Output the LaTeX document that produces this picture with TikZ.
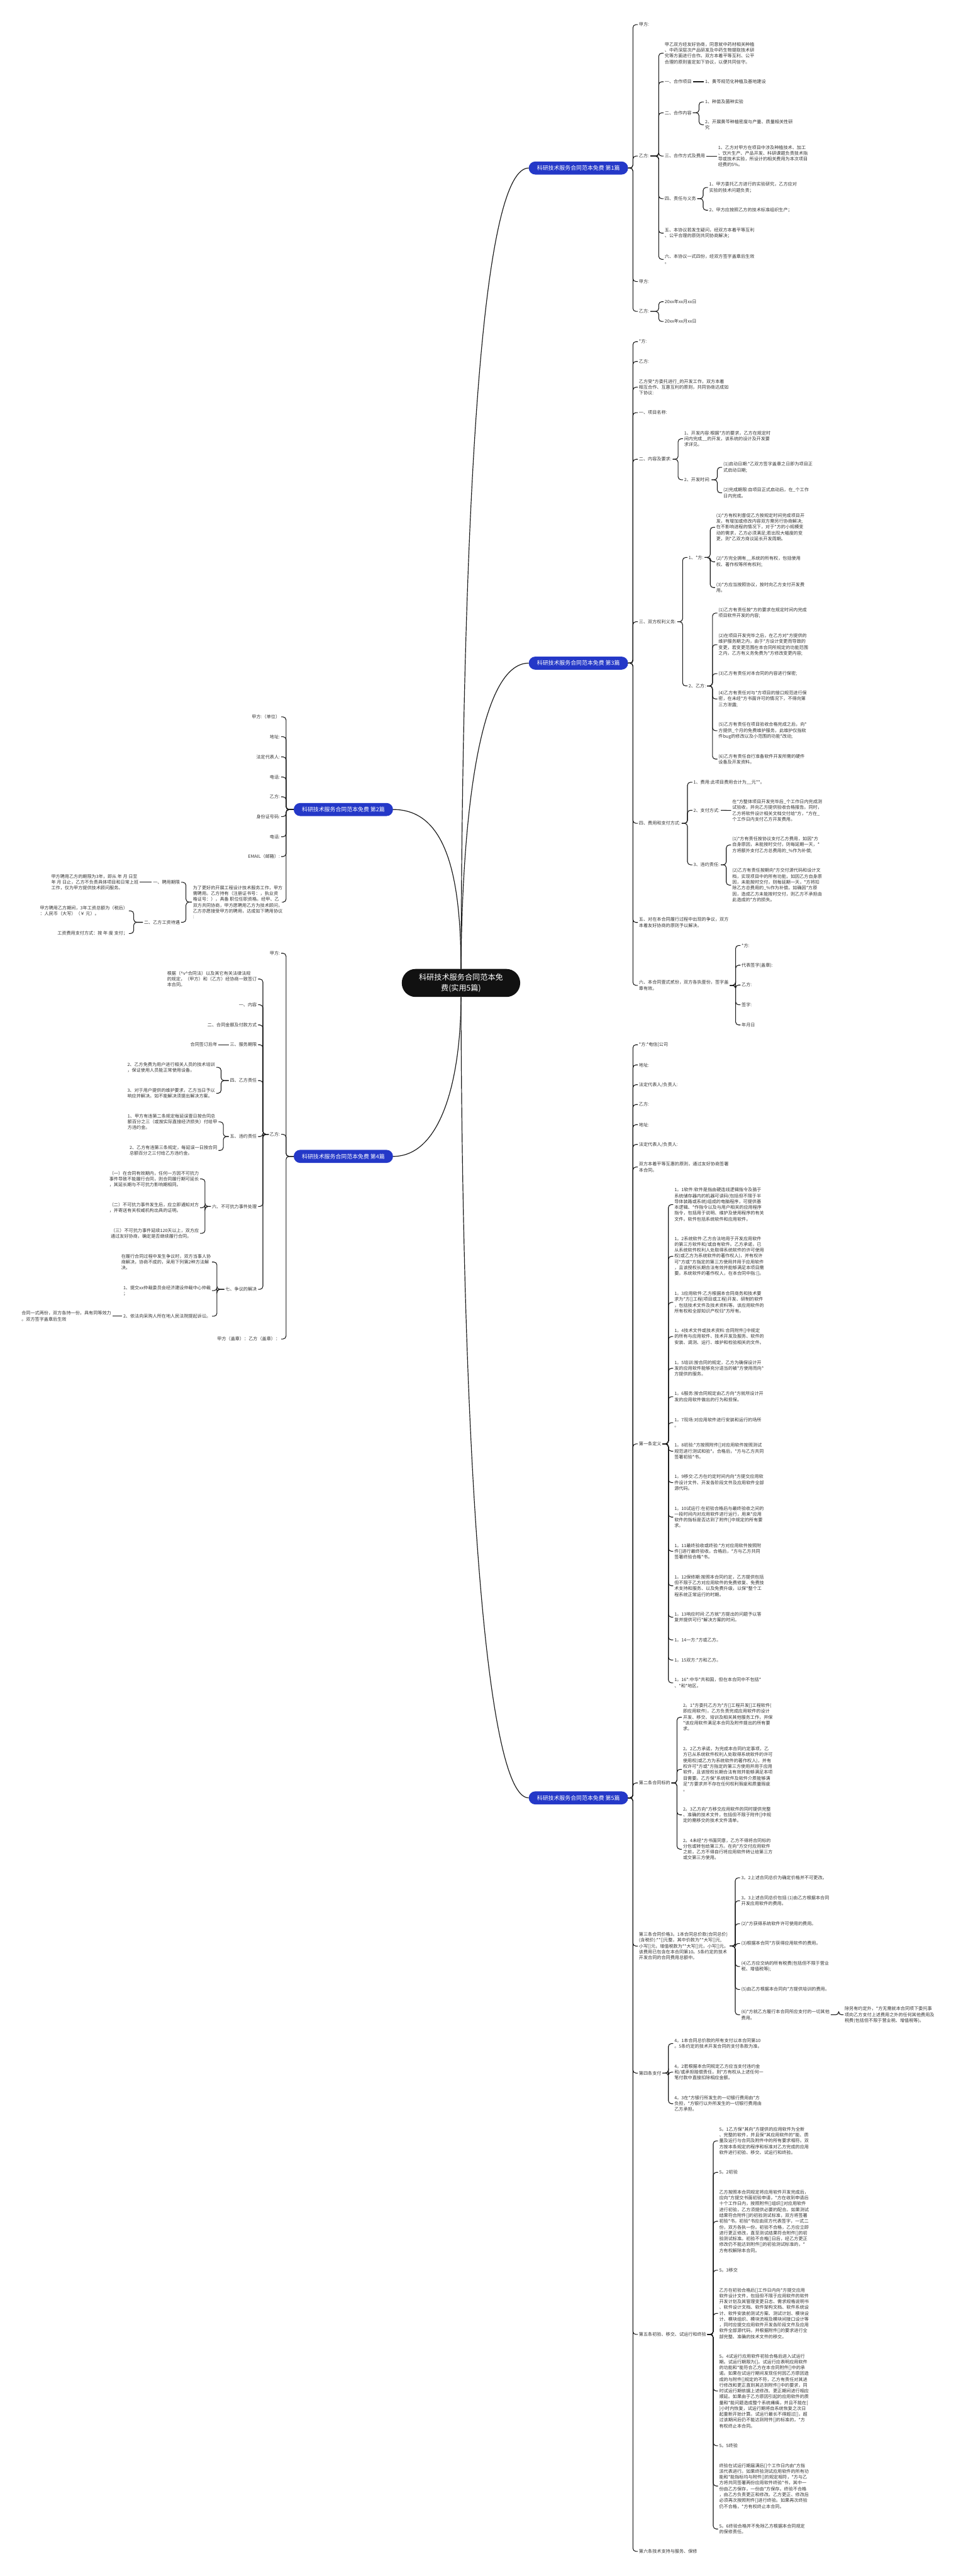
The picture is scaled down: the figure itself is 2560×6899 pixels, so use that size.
\documentclass[tikz,border=0pt]{standalone}
\usepackage{fontspec}
\setmainfont{Noto Sans CJK SC}
\usepackage{tikz}
\usetikzlibrary{calc}
\definecolor{lanse}{HTML}{2438C8}
\definecolor{heise}{HTML}{111111}
\definecolor{wenzi}{HTML}{333333}
\definecolor{xian}{HTML}{1A1A1A}
\tikzset{
  zhuti/.style={fill=heise, text=white, rounded corners=37pt, minimum width=317pt,
              minimum height=75pt, align=center, font=\fontsize{20.5}{28}\selectfont},
  fenzhi/.style={fill=lanse, text=white, rounded corners=17.5pt, minimum width=266pt,
              minimum height=35pt, font=\fontsize{15}{18}\selectfont},
  ye/.style={align=left, inner xsep=3pt, inner ysep=1pt, text=wenzi, font=\fontsize{12}{15.6}\selectfont},
  yer/.style={ye, anchor=west},
  yel/.style={ye, anchor=east},
  zhu/.style={draw=xian, line width=2pt},
  lian/.style={draw=xian, line width=1.8pt, rounded corners=8pt},
}
\begin{document}
\begin{tikzpicture}[x=1pt,y=-1pt]
  \fill[white] (0,0) rectangle (2560,6899);
  \useasboundingbox (0,0) rectangle (2560,6899);

  % centro y ramas
  \node[zhuti] (zt) at (1234.5,2632.5) {科研技术服务合同范本免\\费(实用5篇)};
  \node[fenzhi] (p1) at (1549,450) {科研技术服务合同范本免费 第1篇};
  \node[fenzhi] (p2) at (919.5,2168) {科研技术服务合同范本免费 第2篇};
  \node[fenzhi] (p3) at (1549,1776) {科研技术服务合同范本免费 第3篇};
  \node[fenzhi] (p4) at (919.5,3097) {科研技术服务合同范本免费 第4篇};
  \node[fenzhi] (p5) at (1549,4815) {科研技术服务合同范本免费 第5篇};
  \draw[zhu] (zt.north) .. controls (1240,1200) and (1300,450) .. (p1.west);
  \draw[zhu] (zt.north) .. controls (1238,2150) and (1290,1776) .. (p3.west);
  \draw[zhu] (p2.east) .. controls (1185,2168) and (1234.5,2320) .. (zt.north);
  \draw[zhu] (p4.east) .. controls (1185,3097) and (1234.5,2880) .. (zt.south);
  \draw[zhu] (zt.south) .. controls (1238,3900) and (1300,4815) .. (p5.west);

  % 第1篇
  \node[yer] (a1) at (1708,66) {甲方:};
  \node[yer] (a2) at (1708,418) {乙方:};
  \node[yer] (a3) at (1708,754) {甲方:};
  \node[yer] (a4) at (1708,834) {乙方:};
  \node[yer] (b1) at (1777,142.5) {甲乙双方经友好协商，同意就中药材相关种植\\、中药深层次产品研发及中药生物提取技术研\\究等方面进行合作。双方本着平等互利、公平\\合理的原则鉴定如下协议，以便共同信守。};
  \node[yer] (b2) at (1777,219) {一、合作项目};
  \node[yer] (b3) at (1777,302) {二、合作内容};
  \node[yer] (b4) at (1777,418) {三、合作方式及费用};
  \node[yer] (b5) at (1777,532) {四、责任与义务};
  \node[yer] (b6) at (1777,624.5) {五、本协议若发生疑问，经双方本着平等互利\\、公平合理的原则共同协商解决；};
  \node[yer] (b7) at (1777,694.5) {六、本协议一式四份，经双方签字盖章后生效\\。};
  \node[yer] (c1) at (1885,219) {1、黄芩规范化种植及基地建设};
  \node[yer] (c2) at (1885,273) {1、种苗及菌种实验};
  \node[yer] (c3) at (1885,334) {2、开展黄芩种植密度与产量、质量相关性研\\究};
  \node[yer] (c4) at (1920,418) {1、乙方对甲方在项目中涉及种植技术、加工\\、饮片生产、产品开发、科研课题负责技术指\\导或技术实验，所设计的相关费用为本次项目\\经费的5\%。};
  \node[yer] (c5) at (1896,502) {1、甲方委托乙方进行的实验研究，乙方应对\\实验的技术问题负责；};
  \node[yer] (c6) at (1896,563) {2、甲方应按照乙方的技术标准组织生产；};
  \node[yer] (d1) at (1777,808) {20xx年xx月xx日};
  \node[yer] (d2) at (1777,861) {20xx年xx月xx日};
  \foreach \i in {1,...,4} \draw[lian] (p1.east) -- ($(a\i.west |- p1.east)+(-13,0)$) |- (a\i.west);
  \foreach \i in {1,...,7} \draw[lian] (a2.east) -- ($(b\i.west |- a2.east)+(-13,0)$) |- (b\i.west);
  \draw[lian] (b2.east) -- (c1.west);
  \foreach \i in {2,3} \draw[lian] (b3.east) -- ($(c\i.west |- b3.east)+(-13,0)$) |- (c\i.west);
  \draw[lian] (b4.east) -- (c4.west);
  \foreach \i in {5,6} \draw[lian] (b5.east) -- ($(c\i.west |- b5.east)+(-13,0)$) |- (c\i.west);
  \foreach \i in {1,2} \draw[lian] (a4.east) -- ($(d\i.west |- a4.east)+(-13,0)$) |- (d\i.west);

  % 第3篇
  \node[yer] (e1) at (1708,915) {*方:};
  \node[yer] (e2) at (1708,968) {乙方:};
  \node[yer] (e3) at (1708,1037) {乙方受*方委托进行\_的开发工作，双方本着\\相互合作、互惠互利的原则，共同协商达成如\\下协议:};
  \node[yer] (e4) at (1708,1105) {一、项目名称:};
  \node[yer] (e5) at (1708,1230) {二、内容及要求:};
  \node[yer] (e6) at (1708,1665) {三、双方权利义务:};
  \node[yer] (e7) at (1708,2205) {四、费用和支付方式:};
  \node[yer] (e8) at (1708,2470.5) {五、对在本合同履行过程中出现的争议，双方\\本着友好协商的原则予以解决。};
  \node[yer] (e9) at (1708,2639) {六、本合同壹式贰份，双方各执壹份，签字盖\\章有效。};
  \node[yer] (f1) at (1829,1175) {1、开发内容:根据*方的要求，乙方在规定时\\间内完成\_\_的开发，该系统的设计及开发要\\求详见。};
  \node[yer] (f2) at (1829,1285) {2、开发时间:};
  \node[yer] (g1) at (1934,1251.5) {(1)启动日期:*乙双方签字盖章之日即为项目正\\式启动日期;};
  \node[yer] (g2) at (1934,1320) {(2)完成期限:自项目正式启动后，在\_个工作\\日内完成。};
  \node[yer] (h1) at (1841,1493) {1、*方:};
  \node[yer] (h2) at (1841,1837) {2、乙方:};
  \node[yer] (i1) at (1915,1412) {(1)*方有权利督促乙方按规定时间完成项目开\\发，有增加或修改内容双方需另行协商解决;\\在不影响进程的情况下，对于*方的小规模变\\动的需求，乙方必须满足;若出现大幅度的变\\更，则*乙双方商议延长开发周期。};
  \node[yer] (i2) at (1915,1504.5) {(2)*方完全拥有\_\_系统的所有权，包括使用\\权、著作权等所有权利;};
  \node[yer] (i3) at (1915,1573.5) {(3)*方应当按照协议，按时向乙方支付开发费\\用。};
  \node[yer] (j1) at (1921,1642) {(1)乙方有责任按*方的要求在规定时间内完成\\项目软件开发的内容;};
  \node[yer] (j2) at (1921,1726.5) {(2)在项目开发完毕之后，在乙方对*方提供的\\维护服务期之内，由于*方设计变更而导致的\\变更，若变更范围在本合同所规定的功能范围\\之内，乙方有义务免费为*方修改变更内容;};
  \node[yer] (j3) at (1921,1804) {(3)乙方有责任对本合同的内容进行保密;};
  \node[yer] (j4) at (1921,1872) {(4)乙方有责任对与*方项目的接口规范进行保\\密，在未经*方书面许可的情况下，不得向第\\三方泄露;};
  \node[yer] (j5) at (1921,1957) {(5)乙方有责任在项目验收合格完成之后，向*\\方提供\_个月的免费维护服务，此维护仅指软\\件bug的修改以及小范围的功能*改动;};
  \node[yer] (j6) at (1921,2033) {(6)乙方有责任自行准备软件开发所需的硬件\\设备及开发资料。};
  \node[yer] (k1) at (1854,2095) {1、费用:此项目费用合计为\_\_元**。};
  \node[yer] (k2) at (1854,2170) {2、支付方式:};
  \node[yer] (k3) at (1854,2316) {3、违约责任:};
  \node[yer] (l1) at (1958,2170.5) {在*方整体项目开发完毕后\_个工作日内完成测\\试验收，并向乙方提供验收合格报告。同时，\\乙方将软件设计相关文档交付给*方，*方在\_\\个工作日内支付乙方开发费用。};
  \node[yer] (l2) at (1958,2263) {(1)*方有责任按协议支付乙方费用，如因*方\\自身原因，未能按时交付，则每延期一天，*\\方将额外支付乙方总费用的\_\%作为补偿;};
  \node[yer] (l3) at (1958,2370.5) {(2)乙方有责任按期向*方交付源代码和设计文\\档，实现项目中的所有功能，如因乙方自身原\\因，未能按时交付，则每延期一天，*方将扣\\除乙方总费用的\_\%作为补偿。如确因*方原\\因，造成乙方未能按时交付，则乙方不承担由\\此造成的*方的损失。};
  \node[yer] (m1) at (1983,2532) {*方:};
  \node[yer] (m2) at (1983,2585) {代表签字(盖章):};
  \node[yer] (m3) at (1983,2638) {乙方:};
  \node[yer] (m4) at (1983,2691) {签字:};
  \node[yer] (m5) at (1983,2745) {年月日};
  \foreach \i in {1,...,9} \draw[lian] (p3.east) -- ($(e\i.west |- p3.east)+(-13,0)$) |- (e\i.west);
  \foreach \i in {1,2} \draw[lian] (e5.east) -- ($(f\i.west |- e5.east)+(-13,0)$) |- (f\i.west);
  \foreach \i in {1,2} \draw[lian] (f2.east) -- ($(g\i.west |- f2.east)+(-13,0)$) |- (g\i.west);
  \foreach \i in {1,2} \draw[lian] (e6.east) -- ($(h\i.west |- e6.east)+(-13,0)$) |- (h\i.west);
  \foreach \i in {1,2,3} \draw[lian] (h1.east) -- ($(i\i.west |- h1.east)+(-13,0)$) |- (i\i.west);
  \foreach \i in {1,...,6} \draw[lian] (h2.east) -- ($(j\i.west |- h2.east)+(-13,0)$) |- (j\i.west);
  \foreach \i in {1,2,3} \draw[lian] (e7.east) -- ($(k\i.west |- e7.east)+(-13,0)$) |- (k\i.west);
  \draw[lian] (k2.east) -- (l1.west);
  \foreach \i in {2,3} \draw[lian] (k3.east) -- ($(l\i.west |- k3.east)+(-13,0)$) |- (l\i.west);
  \foreach \i in {1,...,5} \draw[lian] (e9.east) -- ($(m\i.west |- e9.east)+(-13,0)$) |- (m\i.west);

  % 第2篇
  \node[yel] (w1) at (753,1920) {甲方:（单位）};
  \node[yel] (w2) at (753,1973) {地址:};
  \node[yel] (w3) at (753,2027) {法定代表人:};
  \node[yel] (w4) at (753,2081) {电话:};
  \node[yel] (w5) at (753,2134) {乙方:};
  \node[yel] (w6) at (753,2187) {身份证号码:};
  \node[yel] (w7) at (753,2241) {电话:};
  \node[yel] (w8) at (753,2294) {EMAIL（邮箱）:};
  \node[yel] (w9) at (760,2416) {为了更好的开展工程设计技术服务工作，甲方\\需聘用。乙方持有（注册证书号：，执业资\\格证号：），具备 职位任职资格。经甲、乙\\双方共同协商，甲方愿聘用乙方为技术顾问，\\乙方亦愿接受甲方的聘用，达成如下聘用协议\\:};
  \node[yel] (x1) at (485,2363) {一、聘用期限};
  \node[yel] (x2) at (485,2470) {二、乙方工资待遇};
  \node[yel] (y1) at (374,2363) {甲方聘用乙方的期限为3年，即从 年 月 日至\\年 月 日止，乙方不负责具体项目和日常上班\\工作，仅为甲方提供技术顾问服务。};
  \node[yel] (y2) at (345,2439.5) {甲方聘用乙方期间，3年工资总额为（税后）\\：人民币（大写）（￥ 元）。};
  \node[yel] (y3) at (345,2500) {工资费用支付方式：按 年 度 支付；};
  \foreach \i in {1,...,9} \draw[lian] (p2.west) -- ($(w1.east |- p2.west)+(13,0)$) |- (w\i.east);
  \foreach \i in {1,2} \draw[lian] (w9.west) -- ($(x\i.east |- w9.west)+(13,0)$) |- (x\i.east);
  \draw[lian] (x1.west) -- (y1.east);
  \foreach \i in {2,3} \draw[lian] (x2.west) -- ($(y\i.east |- x2.west)+(13,0)$) |- (y\i.east);

  % 第4篇
  \node[yel] (z1) at (753,2553) {甲方:};
  \node[yel] (z2) at (753,3038) {乙方:};
  \node[yel] (z3) at (753,3586) {甲方（盖章）：乙方（盖章）：};
  \node[yel] (o1) at (691,2622) {根据（\textasciicircum v\textasciicircum 合同法）以及其它有关法律法规\\的规定，（甲方）和（乙方）经协商一致签订\\本合同。};
  \node[yel] (o2) at (691,2691) {一、内容};
  \node[yel] (o3) at (691,2745) {二、合同金额及付款方式};
  \node[yel] (o4) at (691,2798) {三、服务期限};
  \node[yel] (o5) at (691,2894) {四、乙方责任};
  \node[yel] (o6) at (691,3044) {五、违约责任};
  \node[yel] (o7) at (691,3231) {六、不可抗力事件处理};
  \node[yel] (o8) at (691,3453) {七、争议的解决};
  \node[yel] (oa1) at (585,2798) {合同签订后年};
  \node[yel] (ob1) at (579,2858.5) {2、乙方免费为用户进行相关人员的技术培训\\，保证使用人员能正常使用设备。};
  \node[yel] (ob2) at (579,2928) {3、对于用户提供的维护要求，乙方当日予以\\响应并解决。如不能解决须提出解决方案。};
  \node[yel] (oc1) at (585,3004.5) {1、甲方有违第二条规定每延误壹日按合同总\\额百分之三（或按实际直接经济损失）付给甲\\方违约金。};
  \node[yel] (oc2) at (585,3081) {2、乙方有违第三条规定，每延误一日按合同\\总额百分之三付给乙方违约金。};
  \node[yel] (od1) at (536,3157.5) {（一）在合同有效期内，任何一方因不可抗力\\事件导致不能履行合同，则合同履行期可延长\\，其延长期与不可抗力影响期相同。};
  \node[yel] (od2) at (536,3234.5) {（二）不可抗力事件发生后，应立即通知对方\\，并寄送有关权威机构出具的证明。};
  \node[yel] (od3) at (536,3303) {（三）不可抗力事件延续120天以上，双方应\\通过友好协商，确定是否继续履行合同。};
  \node[yel] (oe1) at (568,3380) {在履行合同过程中发生争议时，双方当事人协\\商解决，协商不成的，采用下列第2种方法解\\决。};
  \node[yel] (oe2) at (568,3456.5) {1、提交xx仲裁委员会经济建设仲裁中心仲裁\\；};
  \node[yel] (oe3) at (568,3525) {2、依法向采购人所在地人民法院提起诉讼。};
  \node[yel] (of1) at (301,3525) {合同一式两份，双方各持一份，具有同等效力\\。双方签字盖章后生效};
  \foreach \i in {1,2,3} \draw[lian] (p4.west) -- ($(z\i.east |- p4.west)+(13,0)$) |- (z\i.east);
  \foreach \i in {1,...,8} \draw[lian] (z2.west) -- ($(o\i.east |- z2.west)+(13,0)$) |- (o\i.east);
  \draw[lian] (o4.west) -- (oa1.east);
  \foreach \i in {1,2} \draw[lian] (o5.west) -- ($(ob\i.east |- o5.west)+(13,0)$) |- (ob\i.east);
  \foreach \i in {1,2} \draw[lian] (o6.west) -- ($(oc\i.east |- o6.west)+(13,0)$) |- (oc\i.east);
  \foreach \i in {1,2,3} \draw[lian] (o7.west) -- ($(od\i.east |- o7.west)+(13,0)$) |- (od\i.east);
  \foreach \i in {1,2,3} \draw[lian] (o8.west) -- ($(oe\i.east |- o8.west)+(13,0)$) |- (oe\i.east);
  \draw[lian] (oe3.west) -- (of1.east);

  % 第5篇
  \node[yer] (n1) at (1708,2798) {*方:*电信[公司};
  \node[yer] (n2) at (1708,2852) {地址:};
  \node[yer] (n3) at (1708,2905) {法定代表人/负责人:};
  \node[yer] (n4) at (1708,2958) {乙方:};
  \node[yer] (n5) at (1708,3012) {地址:};
  \node[yer] (n6) at (1708,3065) {法定代表人/负责人:};
  \node[yer] (n7) at (1708,3125.5) {双方本着平等互惠的原则，通过友好协商签署\\本合同。};
  \node[yer] (n8) at (1708,3867) {第一条定义};
  \node[yer] (n9) at (1708,4775) {第二条合同标的};
  \node[yer] (n10) at (1708,5212) {第三条合同价格3。1本合同总价款(合同总价)\\(含税价):**[]元整，其中价款为**大写[]元,\\小写[]元，增值税款为**大写[]元，小写[]元。\\该费用已包含在本合同第10。5条约定的技术\\开发合同的合同费用总额中。};
  \node[yer] (n11) at (1708,5552) {第四条支付};
  \node[yer] (n12) at (1708,6252) {第五条初验、移交、试运行和终验};
  \node[yer] (n13) at (1708,6833) {第六条技术支持与服务、保修};
  \node[yer] (q1) at (1803,3226) {1。1软件:软件是指由硬连线逻辑指令及骆于\\系统储存器内的机器可读码(包括但不限于半\\导体装路或系统)组成的电脑程序，可提供基\\本逻辑、*作指令以及与用户相关的应用程序\\指令，包括用于说明、维护及使用程序的有关\\文件。软件包括系统软件和应用软件。};
  \node[yer] (q2) at (1803,3364.5) {1。2系统软件:乙方合法地用于开发应用软件\\的第三方软件和/或自有软件。乙方承诺，已\\从系统软件权利人处取得系统软件的许可使用\\权(或乙方为系统软件的著作权人)，并有权许\\可*方或*方指定的第三方使用并用于应用软件\\，且该授权长期合法有效并能够满足本项目需\\要。系统软件的著作权人，在本合同中指:[]。};
  \node[yer] (q3) at (1803,3488) {1。3应用软件:乙方根据本合同商务和技术要\\求为*方[]工程(项目或工程)开发、研制的软件\\，包括技术文件及技术资料等。该应用软件的\\所有权和全部知识产权归*方所有。};
  \node[yer] (q4) at (1803,3579.5) {1。4技术文件或技术资料:合同附件[]中规定\\的所有与应用软件、技术开发及服务、软件的\\安装、调测、运行、维护和检验相关的文件。};
  \node[yer] (q5) at (1803,3664.5) {1。5培训:按合同的规定，乙方为确保设计开\\发的应用软件能够充分适当的被*方使用而向*\\方提供的服务。};
  \node[yer] (q6) at (1803,3740.5) {1。6服务:按合同规定由乙方向*方就所设计开\\发的应用软件做出的行为和担保。};
  \node[yer] (q7) at (1803,3810) {1。7现场:对应用软件进行安装和运行的场所\\。};
  \node[yer] (q8) at (1803,3886.5) {1。8初验:*方按照附件[]对应用软件按照测试\\规范进行测试和验*。合格后，*方与乙方共同\\签署初验*书。};
  \node[yer] (q9) at (1803,3970.5) {1。9移交:乙方在约定时间内向*方提交应用软\\件设计文件、开发各阶段文件及应用软件全部\\源代码。};
  \node[yer] (q10) at (1803,4063) {1。10试运行:在初验合格后与最终验收之间的\\一段时间内对应用软件进行运行，用来*应用\\软件的指标是否达到了附件[]中规定的所有要\\求。};
  \node[yer] (q11) at (1803,4154.5) {1。11最终验收或终验:*方对应用软件按照附\\件[]进行最终验收。合格后，*方与乙方共同\\签署终验合格*书。};
  \node[yer] (q12) at (1803,4247) {1。12保修期:按照本合同约定，乙方提供包括\\但不限于乙方对应用软件的免费修复、免费技\\术支持和服务、以及免费升级，以保*整个工\\程系统正常运行的时期。};
  \node[yer] (q13) at (1803,4331) {1。13响应时间:乙方就*方提出的问题予以答\\复并提供可行*解决方案的时间。};
  \node[yer] (q14) at (1803,4392) {1。14一方:*方或乙方。};
  \node[yer] (q15) at (1803,4446) {1。15双方:*方和乙方。};
  \node[yer] (q16) at (1803,4507) {1。16*:中华*共和国，但在本合同中不包括*\\、*和*地区。};
  \node[yer] (r1) at (1826,4599) {2。1*方委托乙方为*方[]工程开发[]工程软件(\\即应用软件)，乙方负责完成应用软件的设计\\开发、移交、培训及相关其他服务工作，并保\\{}*该应用软件满足本合同及附件提出的所有要\\求。};
  \node[yer] (r2) at (1826,4738.5) {2。2乙方承诺，为完成本合同约定事项，乙\\方已从系统软件权利人处取得系统软件的许可\\使用权(或乙方为系统软件的著作权人)，并有\\权许可*方或*方指定的第三方使用并用于应用\\软件，且该授权长期合法有效并能够满足本项\\目需要。乙方保*系统软件及软件介质能够满\\足*方要求并不存在任何权利瑕疵和质量瑕疵\\。};
  \node[yer] (r3) at (1826,4860.5) {2。3乙方向*方移交应用软件的同时提供完整\\、准确的技术文件，包括但不限于附件[]中规\\定的需移交的技术文件清单。};
  \node[yer] (r4) at (1826,4952.5) {2。4未经*方书面同意，乙方不得将合同标的\\分包或转包给第三方。在向*方交付应用软件\\之前，乙方不得自行将应用软件转让给第三方\\或交第三方使用。};
  \node[yer] (s1) at (1982,5029) {3。2上述合同总价为确定价格并不可更改。};
  \node[yer] (s2) at (1982,5090.5) {3。3上述合同总价包括:(1)由乙方根据本合同\\开发应用软件的费用。};
  \node[yer] (s3) at (1982,5152) {(2)*方获得系统软件许可使用的费用。};
  \node[yer] (s4) at (1982,5205) {(3)根据本合同*方获得应用软件的费用。};
  \node[yer] (s5) at (1982,5266.5) {(4)乙方应交纳的所有税费(包括但不限于营业\\税、增值税等);};
  \node[yer] (s6) at (1982,5328) {(5)由乙方根据本合同向*方提供培训的费用。};
  \node[yer] (s7) at (1982,5396) {(6)*方就乙方履行本合同所应支付的一切其他\\费用。};
  \node[yer] (t1) at (2259,5396) {除另有约定外，*方无需就本合同项下委托事\\项向乙方支付上述费用之外的任何其他费用及\\税费(包括但不限于营业税、增值税等)。};
  \node[yer] (u1) at (1803,5473) {4。1本合同总价款的所有支付以本合同第10\\。5条约定的技术开发合同的支付条款为准。};
  \node[yer] (u2) at (1803,5549.5) {4。2若根据本合同规定乙方应当支付违约金\\和/或承担赔偿责任，则*方有权从上述任何一\\笔付款中直接扣除相应金额。};
  \node[yer] (u3) at (1803,5634) {4。3在*方银行所发生的一切银行费用由*方\\负担，*方银行以外所发生的一切银行费用由\\乙方承担。};
  \node[yer] (v1) at (1923,5733.5) {5。1乙方保*其向*方提供的应用软件为全新\\、完整的软件，并且保*其应用软件的*能、质\\量及运行与合同及附件中的所有要求相符。双\\方按本条规定的程序和标准对乙方完成的应用\\软件进行初验、移交、试运行和终验。};
  \node[yer] (v2) at (1923,5818) {5。2初验};
  \node[yer] (v3) at (1923,5949) {乙方按照本合同规定将应用软件开发完成后，\\应向*方提交书面初验申请，*方在收到申请后\\十个工作日内，按照附件[]组织[]对应用软件\\进行初验，乙方须提供必要的配合。如果测试\\结果符合附件[]的初验测试标准，双方将签署\\初验*书。初验*书应由双方代表签字，一式二\\份，双方各执一份。初验不合格，乙方应立即\\进行更正修改，直至测试结果符合附件[]的初\\验测试标准。初验不合格[]日后，经乙方更正\\修改仍不能达到附件[]的初验测试标准的，*\\方有权解除本合同。};
  \node[yer] (v4) at (1923,6080) {5。3移交};
  \node[yer] (v5) at (1923,6195.5) {乙方在初验合格后[]工作日内向*方提交应用\\软件设计文件，包括但不限于应用软件的软件\\开发计划及其管理变更日志、需求规格说明书\\、软件设计文档、软件架构文档、软件系统设\\计、软件安装前测试方案、测试计划、模块设\\计、模块组织、模块流程及模块间接口设计等\\，同时应提交应用软件开发各阶段文件及应用\\软件全部源代码，并根据附件[]的要求进行全\\部完整、准确的技术文件的移交。};
  \node[yer] (v6) at (1923,6403.5) {5。4试运行应用软件初验合格后进入试运行\\期。试运行期限为[]。试运行应表明应用软件\\的功能和*能符合乙方在本合同附件[]中的承\\诺。如果在试运行期间发现任何因乙方原因造\\成的与附件[]规定的不符，乙方有责任对其进\\行修改和更正直到其达到附件[]中的要求，同\\时试运行期依据上述修改、更正期间进行相应\\顺延。如果由于乙方原因引起的应用软件的质\\量和*能问题造成整个系统瘫痪，并且不能在[\\]小时内恢复，试运行期将自系统恢复之次日\\起重新开始计算。试运行最长不得超过[]，超\\过该期间后仍不能达到附件[]的标准的，*方\\有权终止本合同。};
  \node[yer] (v7) at (1923,6550) {5。5终验};
  \node[yer] (v8) at (1923,6658) {终验在试运行期届满后[]个工作日内由*方指\\派代表进行。如果终验测试应用软件的所有功\\能和*能指标均与附件[]的规定相符，*方与乙\\方将共同签署两份应用软件终验*书，其中一\\份由乙方保存，一份由*方保存。终验不合格\\，由乙方负责更正和修改。乙方更正、修改后\\必须再次按照附件[]进行终验。如果再次终验\\仍不合格，*方有权终止本合同。};
  \node[yer] (v9) at (1923,6773) {5。6终验合格并不免除乙方根据本合同规定\\的保修责任。};
  \foreach \i in {1,...,13} \draw[lian] (p5.east) -- ($(n\i.west |- p5.east)+(-13,0)$) |- (n\i.west);
  \foreach \i in {1,...,16} \draw[lian] (n8.east) -- ($(q\i.west |- n8.east)+(-13,0)$) |- (q\i.west);
  \foreach \i in {1,...,4} \draw[lian] (n9.east) -- ($(r\i.west |- n9.east)+(-13,0)$) |- (r\i.west);
  \foreach \i in {1,...,7} \draw[lian] (n10.east) -- ($(s\i.west |- n10.east)+(-13,0)$) |- (s\i.west);
  \draw[lian] (s7.east) -- ($(t1.west |- s7.east)+(-13,0)$) |- (t1.west);
  \foreach \i in {1,2,3} \draw[lian] (n11.east) -- ($(u\i.west |- n11.east)+(-13,0)$) |- (u\i.west);
  \foreach \i in {1,...,9} \draw[lian] (n12.east) -- ($(v\i.west |- n12.east)+(-13,0)$) |- (v\i.west);
\end{tikzpicture}
\end{document}
